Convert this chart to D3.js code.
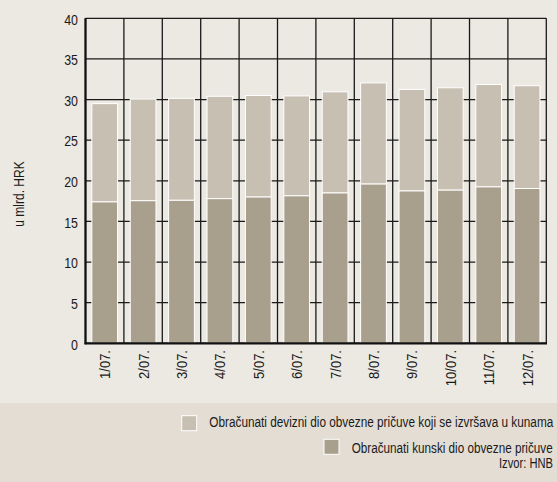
<!DOCTYPE html>
<html><head><meta charset="utf-8">
<script src="https://cdn.jsdelivr.net/npm/d3@7"></script>
<style>
html,body{margin:0;padding:0;background:#ECE8E2;}
text{font-family:"Liberation Sans",Arial,sans-serif;fill:#1a1a1a;}
</style></head>
<body>
<svg id="c" width="557" height="482"></svg>
<script>
const categories = ["1/07.","2/07.","3/07.","4/07.","5/07.","6/07.","7/07.","8/07.","9/07.","10/07.","11/07.","12/07."];
const kunski = [17.4,17.55,17.6,17.8,18.0,18.15,18.5,19.6,18.75,18.85,19.25,19.05];
const devizni = [12.1,12.5,12.55,12.6,12.5,12.3,12.45,12.45,12.5,12.6,12.6,12.65];
const yTicks = [0,5,10,15,20,25,30,35,40];
const legendLabels = ["Obračunati devizni dio obvezne pričuve koji se izvršava u kunama","Obračunati kunski dio obvezne pričuve"];
const source = "Izvor: HNB";
const yTitle = "u mlrd. HRK";

const W=557,H=482;
const m={l:85.5,t:18.3,r:546.3,b:343.3};
const light="#C8BFB3", dark="#A99F8D";
const NX=0.8; // narrow factor to mimic condensed face
const svg=d3.select("#c");
svg.append("rect").attr("x",0).attr("y",403).attr("width",W).attr("height",H-403).attr("fill","#E3DDD4");

const x=d3.scaleBand().domain(categories).range([m.l,m.r]).paddingInner(0.33).paddingOuter(0.165);
const xb=d3.scaleBand().domain(categories).range([m.l,m.r]);
const y=d3.scaleLinear().domain([0,40]).range([m.b,m.t]);

// grid
const g=svg.append("g");
g.selectAll("line.h").data(yTicks).join("line")
 .attr("x1",m.l).attr("x2",m.r).attr("y1",d=>y(d)).attr("y2",d=>y(d))
 .attr("stroke","#1a1a1a").attr("stroke-width",1.3);
const bounds=categories.map(c=>xb(c)).concat([m.r]);
g.selectAll("line.v").data(bounds).join("line")
 .attr("x1",d=>d).attr("x2",d=>d).attr("y1",m.t).attr("y2",m.b)
 .attr("stroke","#1a1a1a").attr("stroke-width",1.3);

// bars
const data=categories.map((c,i)=>({c,k:kunski[i],d:devizni[i]}));
const bars=svg.append("g");
bars.selectAll("rect.d").data(data).join("rect")
 .attr("x",d=>x(d.c)).attr("width",x.bandwidth())
 .attr("y",d=>y(d.k+d.d)).attr("height",d=>y(d.k)-y(d.k+d.d))
 .attr("fill",light).attr("stroke","#fff").attr("stroke-width",1);
bars.selectAll("rect.k").data(data).join("rect")
 .attr("x",d=>x(d.c)).attr("width",x.bandwidth())
 .attr("y",d=>y(d.k)).attr("height",d=>y(0)-y(d.k))
 .attr("fill",dark).attr("stroke","#fff").attr("stroke-width",1);

// axes lines
svg.append("line").attr("x1",m.l).attr("x2",m.l).attr("y1",m.t).attr("y2",m.b+1).attr("stroke","#111").attr("stroke-width",2.2);
svg.append("line").attr("x1",m.l-1).attr("x2",m.r+0.7).attr("y1",m.b).attr("y2",m.b).attr("stroke","#111").attr("stroke-width",2.2);

// y tick labels
svg.append("g").selectAll("text").data(yTicks).join("text")
 .attr("transform",d=>`translate(78,${y(d)+6.3}) scale(${NX},1)`).attr("text-anchor","end")
 .attr("font-size",15.5).text(d=>d);

// x labels
svg.append("g").selectAll("text").data(categories).join("text")
 .attr("transform",d=>`translate(${xb(d)+xb.bandwidth()/2+5.5},350) rotate(-90) scale(0.84,1)`)
 .attr("text-anchor","end").attr("font-size",15.5).text(d=>d);

// y title
svg.append("text").attr("transform",`translate(24,194) rotate(-90) scale(${NX},1)`)
 .attr("text-anchor","middle").attr("font-size",15).text(yTitle);

// legend
const lg=svg.append("g");
const items=[{t:legendLabels[0],c:light,sx:181.7,sy:415.7,tx:209.3,ty:427.3,w:344},{t:legendLabels[1],c:dark,sx:324,sy:439.3,tx:351.7,ty:452.5,w:201}];
items.forEach(it=>{
  lg.append("rect").attr("x",it.sx).attr("y",it.sy).attr("width",15).attr("height",15).attr("fill",it.c).attr("stroke","#fff").attr("stroke-width",1);
  lg.append("text").attr("x",it.tx).attr("y",it.ty).attr("font-size",15.5)
    .attr("textLength",it.w).attr("lengthAdjust","spacingAndGlyphs").text(it.t);
});
lg.append("text").attr("x",499).attr("y",468).attr("font-size",15)
  .attr("textLength",54).attr("lengthAdjust","spacingAndGlyphs").text(source);
</script>
</body></html>
